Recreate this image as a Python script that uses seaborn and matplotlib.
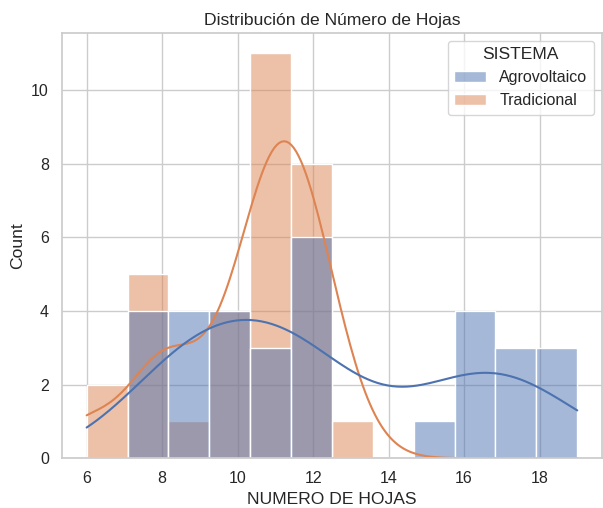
import pandas as pd
import matplotlib
matplotlib.use("Agg")
import matplotlib.pyplot as plt
import seaborn as sns

hojas_agrovoltaico = [8, 8, 8, 8, 9, 9, 9, 9, 10, 10, 10, 10, 11, 11, 11,
                      12, 12, 12, 12, 12, 12, 15, 16, 16, 16, 16, 17, 17, 17,
                      18, 18, 19]
hojas_tradicional = [6, 6, 8, 8, 8, 8, 8, 9, 10, 10, 10, 10,
                     11, 11, 11, 11, 11, 11, 11, 11, 11, 11, 11,
                     12, 12, 12, 12, 12, 12, 12, 12, 13]
sistemas = ['Agrovoltaico', 'Tradicional']

df = pd.DataFrame({
    'NUMERO DE HOJAS': hojas_agrovoltaico + hojas_tradicional,
    'SISTEMA': [sistemas[0]] * len(hojas_agrovoltaico) + [sistemas[1]] * len(hojas_tradicional),
})

sns.set_theme(style="whitegrid", font_scale=1.05)
plt.rcParams['font.family'] = ['Liberation Sans', 'DejaVu Sans']

fig, ax = plt.subplots(figsize=(6.03, 5.08), dpi=100)
sns.histplot(data=df, x='NUMERO DE HOJAS', hue='SISTEMA', bins=12, kde=True,
             hue_order=sistemas, ax=ax)
ax.set_title('Distribución de Número de Hojas')
fig.subplots_adjust(left=0.103, right=0.998, bottom=0.098, top=0.935)

plt.savefig('out.png', dpi=100)
